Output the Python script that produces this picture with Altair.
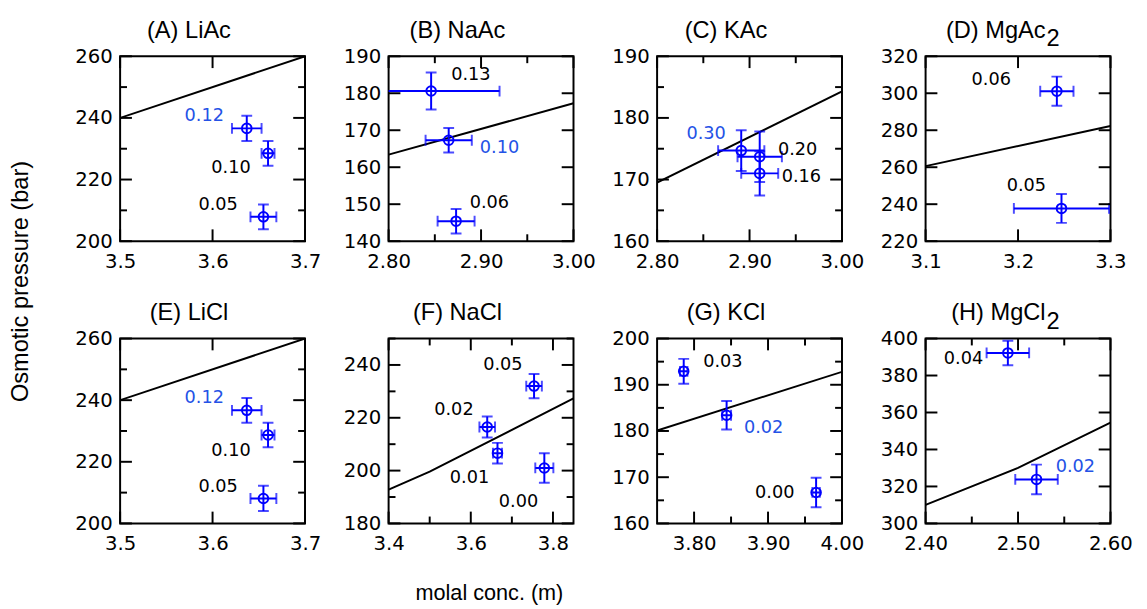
import altair as alt
import pandas as pd

# ---------------- data ----------------
# axis domains, tick labels and minor ticks, panels A..H
x_domains = [[3.5, 3.7], [2.80, 3.00], [2.80, 3.00], [3.1, 3.3],
             [3.5, 3.7], [3.4, 3.85], [3.75, 4.00], [2.40, 2.60]]
y_domains = [[200, 260], [140, 190], [160, 190], [220, 320],
             [200, 260], [180, 250], [160, 200], [300, 400]]
x_labels = [[3.5, 3.6, 3.7], [2.8, 2.9, 3.0], [2.8, 2.9, 3.0], [3.1, 3.2, 3.3],
            [3.5, 3.6, 3.7], [3.4, 3.6, 3.8], [3.8, 3.9, 4.0], [2.4, 2.5, 2.6]]
x_formats = [".1f", ".2f", ".2f", ".1f", ".1f", ".1f", ".2f", ".2f"]
x_minor = [[], [2.85, 2.95], [2.85, 2.95], [], [], [3.5, 3.7], [3.85, 3.95], [2.45, 2.55]]
y_labels = [[200, 220, 240, 260], [140, 150, 160, 170, 180, 190], [160, 170, 180, 190],
            [220, 240, 260, 280, 300, 320], [200, 220, 240, 260], [180, 200, 220, 240],
            [160, 170, 180, 190, 200], [300, 320, 340, 360, 380, 400]]
y_minor = [[210, 230, 250], [], [165, 175, 185], [], [210, 230, 250],
           [190, 210, 230, 250], [165, 175, 185, 195], []]
titles = ["(A) LiAc", "(B) NaAc", "(C) KAc", "(D) MgAc",
          "(E) LiCl", "(F) NaCl", "(G) KCl", "(H) MgCl"]
title_subs = ["", "", "", "2", "", "", "", "2"]

# (A) LiAc
A_line_x = [3.5, 3.7]
A_line_y = [240.0, 260.0]
A_x = [3.637, 3.660, 3.655]
A_y = [236.6, 228.5, 207.9]
A_ex = [0.016, 0.007, 0.014]
A_ey = [4.1, 4.0, 4.0]
A_lab = ["0.12", "0.10", "0.05"]
A_lab_x = [3.591, 3.620, 3.606]
A_lab_y = [240.7, 223.6, 211.7]
A_lab_blue = [1, 0, 0]

# (B) NaAc
B_line_x = [2.80, 3.00]
B_line_y = [163.4, 177.3]
B_x = [2.846, 2.865, 2.873]
B_y = [180.6, 167.3, 145.4]
B_ex = [0.074, 0.025, 0.020]
B_ey = [5.0, 3.3, 3.3]
B_lab = ["0.13", "0.10", "0.06"]
B_lab_x = [2.889, 2.920, 2.909]
B_lab_y = [184.8, 165.2, 150.2]
B_lab_blue = [0, 1, 0]

# (C) KAc
C_line_x = [2.80, 3.00]
C_line_y = [169.5, 184.3]
C_x = [2.891, 2.911, 2.911]
C_y = [174.7, 173.7, 171.0]
C_ex = [0.025, 0.024, 0.020]
C_ey = [3.3, 4.1, 3.6]
C_lab = ["0.30", "0.20", "0.16"]
C_lab_x = [2.853, 2.952, 2.956]
C_lab_y = [177.4, 174.8, 170.4]
C_lab_blue = [1, 0, 0]

# (D) MgAc2
D_line_x = [3.1, 3.3]
D_line_y = [260.6, 282.3]
D_x = [3.242, 3.247]
D_y = [301.1, 237.7]
D_ex = [0.018, 0.0515]
D_ey = [7.9, 7.8]
D_lab = ["0.06", "0.05"]
D_lab_x = [3.171, 3.209]
D_lab_y = [307.0, 249.8]
D_lab_blue = [0, 0]

# (E) LiCl
E_line_x = [3.5, 3.7]
E_line_y = [240.0, 260.0]
E_x = [3.637, 3.660, 3.655]
E_y = [236.7, 228.7, 208.1]
E_ex = [0.016, 0.007, 0.014]
E_ey = [4.0, 4.0, 4.1]
E_lab = ["0.12", "0.10", "0.05"]
E_lab_x = [3.591, 3.620, 3.606]
E_lab_y = [240.7, 223.6, 211.7]
E_lab_blue = [1, 0, 0]

# (F) NaCl
F_line_x = [3.4, 3.5, 3.85]
F_line_y = [192.8, 199.6, 227.3]
F_x = [3.754, 3.640, 3.665, 3.779]
F_y = [232.0, 216.5, 206.6, 201.0]
F_ex = [0.019, 0.019, 0.011, 0.022]
F_ey = [4.6, 4.0, 3.9, 5.6]
F_lab = ["0.05", "0.02", "0.01", "0.00"]
F_lab_x = [3.678, 3.559, 3.597, 3.716]
F_lab_y = [240.0, 222.9, 197.2, 188.0]
F_lab_blue = [0, 0, 0, 0]

# (G) KCl
G_line_x = [3.75, 4.00]
G_line_y = [180.1, 192.8]
G_x = [3.786, 3.844, 3.965]
G_y = [192.9, 183.4, 166.7]
G_ex = [0.005, 0.006, 0.005]
G_ey = [2.7, 3.1, 3.2]
G_lab = ["0.03", "0.02", "0.00"]
G_lab_x = [3.839, 3.894, 3.909]
G_lab_y = [194.8, 180.6, 166.5]
G_lab_blue = [0, 1, 0]

# (H) MgCl2
H_line_x = [2.40, 2.50, 2.60]
H_line_y = [310.0, 330.0, 354.5]
H_x = [2.489, 2.520]
H_y = [392.2, 323.8]
H_ex = [0.023, 0.023]
H_ey = [6.6, 8.0]
H_lab = ["0.04", "0.02"]
H_lab_x = [2.441, 2.562]
H_lab_y = [389.0, 330.5]
H_lab_blue = [0, 1]

# ---------------- styling ----------------
W = 188
HT = 188
PT_BLUE = "#0000ff"
LAB_BLUE = "#2452e6"
MAJ = 12
MIN = 7
TICK_FONT = "DejaVu Sans"
TITLE_FONT = "Liberation Sans"


def make_panel(i, line_x, line_y, px, py, ex, ey, lab, lab_x, lab_y, lab_blue, xtitle=None):
    xs = alt.Scale(domain=x_domains[i], nice=False, zero=False)
    ys = alt.Scale(domain=y_domains[i], nice=False, zero=False)
    xaxis = alt.Axis(values=x_labels[i], format=x_formats[i], ticks=False, tickSize=0,
                     domain=False, grid=False, labelFont=TICK_FONT, labelFontSize=20,
                     labelColor="black", labelPadding=11, labelFlush=False,
                     labelOverlap=False, title=xtitle, titleFont=TITLE_FONT,
                     titleFontSize=22, titleFontWeight="normal", titleColor="black",
                     titlePadding=29, titleX=W / 2 + 8)
    yaxis = alt.Axis(values=y_labels[i], format="d", ticks=False, tickSize=0,
                     domain=False, grid=False, labelFont=TICK_FONT, labelFontSize=20,
                     labelColor="black", labelPadding=8, labelFlush=False,
                     labelOverlap=False, title=None)

    def X(f):
        return alt.X(f, type="quantitative", scale=xs, axis=xaxis)

    def Y(f):
        return alt.Y(f, type="quantitative", scale=ys, axis=yaxis)

    line_df = pd.DataFrame({"x": line_x, "y": line_y})
    pts = pd.DataFrame({"x": px, "y": py, "ex": ex, "ey": ey})
    labs = pd.DataFrame({"x": lab_x, "y": lab_y, "t": lab,
                         "c": [LAB_BLUE if b else "black" for b in lab_blue]})

    base_pts = alt.Chart(pts).transform_calculate(
        xlo="datum.x - datum.ex", xhi="datum.x + datum.ex",
        ylo="datum.y - datum.ey", yhi="datum.y + datum.ey")

    layers = []
    layers.append(alt.Chart(line_df).mark_line(color="black", strokeWidth=2, clip=True)
                  .encode(x=X("x"), y=Y("y")))
    # error bars
    layers.append(base_pts.mark_rule(color=PT_BLUE, strokeWidth=2, clip=True)
                  .encode(x=X("xlo"), x2="xhi:Q", y=Y("y")))
    layers.append(base_pts.mark_rule(color=PT_BLUE, strokeWidth=2, clip=True)
                  .encode(x=X("x"), y=Y("ylo"), y2="yhi:Q"))
    for f in ["xlo", "xhi"]:
        layers.append(base_pts.mark_tick(color=PT_BLUE, orient="vertical", size=11,
                                         thickness=2, clip=True)
                      .encode(x=X(f), y=Y("y")))
    for f in ["ylo", "yhi"]:
        layers.append(base_pts.mark_tick(color=PT_BLUE, orient="horizontal", size=11,
                                         thickness=2, clip=True)
                      .encode(x=X("x"), y=Y(f)))
    layers.append(alt.Chart(pts).mark_point(shape="circle", filled=False, size=95,
                                            strokeWidth=2, color=PT_BLUE, opacity=1)
                  .encode(x=X("x"), y=Y("y")))
    layers.append(alt.Chart(labs).mark_text(font=TICK_FONT, fontSize=18, align="center",
                                            baseline="middle")
                  .encode(x=X("x"), y=Y("y"), text="t:N", color=alt.Color("c:N", scale=None)))

    # inward ticks on all four sides
    for vals, ln in [(x_labels[i], MAJ), (x_minor[i], MIN)]:
        if vals:
            d = pd.DataFrame({"v": vals})
            layers.append(alt.Chart(d).mark_rule(color="black", strokeWidth=2)
                          .encode(x=X("v"), y=alt.value(HT), y2=alt.value(HT - ln)))
            layers.append(alt.Chart(d).mark_rule(color="black", strokeWidth=2)
                          .encode(x=X("v"), y=alt.value(0), y2=alt.value(ln)))
    for vals, ln in [(y_labels[i], MAJ), (y_minor[i], MIN)]:
        if vals:
            d = pd.DataFrame({"v": vals})
            layers.append(alt.Chart(d).mark_rule(color="black", strokeWidth=2)
                          .encode(y=Y("v"), x=alt.value(0), x2=alt.value(ln)))
            layers.append(alt.Chart(d).mark_rule(color="black", strokeWidth=2)
                          .encode(y=Y("v"), x=alt.value(W), x2=alt.value(W - ln)))

    # panel title (with optional subscript)
    tdf = pd.DataFrame({"t": [titles[i]]})
    if title_subs[i]:
        layers.append(alt.Chart(tdf).mark_text(font=TITLE_FONT, fontSize=24, align="right",
                                               baseline="middle", color="black")
                      .encode(text="t:N", x=alt.value(122), y=alt.value(-26)))
        sdf = pd.DataFrame({"t": [title_subs[i]]})
        layers.append(alt.Chart(sdf).mark_text(font=TITLE_FONT, fontSize=24, align="left",
                                               baseline="middle", color="black")
                      .encode(text="t:N", x=alt.value(123), y=alt.value(-17)))
    else:
        layers.append(alt.Chart(tdf).mark_text(font=TITLE_FONT, fontSize=24, align="center",
                                               baseline="middle", color="black")
                      .encode(text="t:N", x=alt.value(W / 2 - 24), y=alt.value(-26)))

    return alt.layer(*layers).properties(width=W, height=HT)


panels = [
    make_panel(0, A_line_x, A_line_y, A_x, A_y, A_ex, A_ey, A_lab, A_lab_x, A_lab_y, A_lab_blue),
    make_panel(1, B_line_x, B_line_y, B_x, B_y, B_ex, B_ey, B_lab, B_lab_x, B_lab_y, B_lab_blue),
    make_panel(2, C_line_x, C_line_y, C_x, C_y, C_ex, C_ey, C_lab, C_lab_x, C_lab_y, C_lab_blue),
    make_panel(3, D_line_x, D_line_y, D_x, D_y, D_ex, D_ey, D_lab, D_lab_x, D_lab_y, D_lab_blue),
    make_panel(4, E_line_x, E_line_y, E_x, E_y, E_ex, E_ey, E_lab, E_lab_x, E_lab_y, E_lab_blue),
    make_panel(5, F_line_x, F_line_y, F_x, F_y, F_ex, F_ey, F_lab, F_lab_x, F_lab_y, F_lab_blue,
               xtitle="molal conc. (m)"),
    make_panel(6, G_line_x, G_line_y, G_x, G_y, G_ex, G_ey, G_lab, G_lab_x, G_lab_y, G_lab_blue),
    make_panel(7, H_line_x, H_line_y, H_x, H_y, H_ex, H_ey, H_lab, H_lab_x, H_lab_y, H_lab_blue),
]

chart = alt.concat(
    *panels, columns=4, spacing={"row": 99, "column": 85}, bounds="flush",
    title=alt.TitleParams(text="Osmotic pressure (bar)", orient="left", anchor="middle",
                          font=TITLE_FONT, fontSize=24, fontWeight="normal", color="black",
                          offset=41, dx=30),
).properties(
    padding={"left": 1, "top": 5, "right": 5, "bottom": 5},
    background="white",
).configure_view(stroke="black", strokeWidth=2)

chart.save("out.html", embed_options={"renderer": "svg", "actions": False})
